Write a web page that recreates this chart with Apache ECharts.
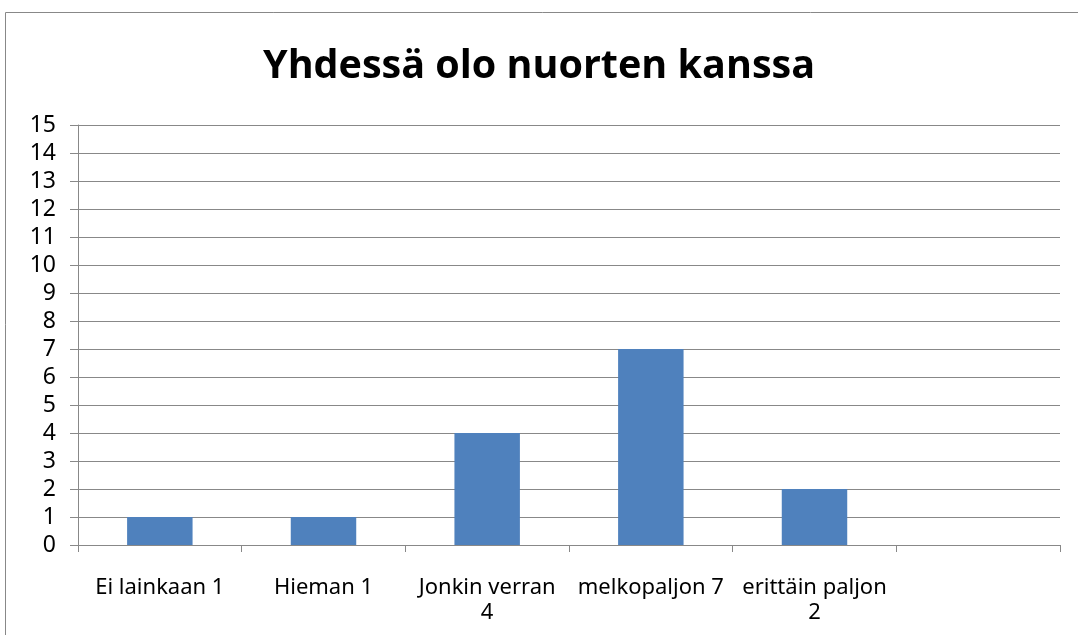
<!DOCTYPE html>
<html>
<head>
    <meta charset="UTF-8">
    <title>Yhdessä olo nuorten kanssa</title>
    <script src="https://cdn.jsdelivr.net/npm/echarts@6/dist/echarts.min.js"></script>
    <style>
        html, body { margin: 0; padding: 0; background: #fff; }
        #container { width: 1078px; height: 635px; }
    </style>
</head>
<body>
<div id="container"></div>
<script>

    // kategoriat ja arvot
    var categories = ['Ei lainkaan 1', 'Hieman 1', 'Jonkin verran\n4', 'melkopaljon 7', 'erittäin paljon\n2', ''];
    var values = [1, 1, 4, 7, 2, null];

    var mychart = echarts.init(document.getElementById('container'));

    var option = {
        animation: false,
        textStyle: { fontFamily: 'Noto Sans' },
        title: {
            text: 'Yhdessä olo nuorten kanssa',
            left: 'center',
            top: 42,
            textStyle: { fontSize: 39.5, fontWeight: 'bold', color: '#000', fontFamily: 'Open Sans' }
        },
        graphic: [{
            type: 'rect',
            shape: { x: 5.5, y: 12.5, width: 1100, height: 700 },
            style: { fill: 'none', stroke: '#888', lineWidth: 1 },
            silent: true
        }],
        grid: { left: 78, right: 18, top: 125, bottom: 90 },
        xAxis: {
            type: 'category',
            data: categories,
            axisLine: { lineStyle: { color: '#888' } },
            axisTick: { show: true, length: 7, lineStyle: { color: '#888' } },
            axisLabel: {
                interval: 0,
                margin: 30,
                fontSize: 22,
                color: '#000',
                lineHeight: 25
            }
        },
        yAxis: {
            type: 'value',
            min: 0,
            max: 15,
            interval: 1,
            axisLine: { show: true, lineStyle: { color: '#888' } },
            axisTick: { show: true, length: 8, lineStyle: { color: '#888' } },
            splitLine: { lineStyle: { color: '#888' } },
            axisLabel: { margin: 22, fontSize: 23, color: '#000' }
        },
        series: [{
            type: 'bar',
            data: values,
            barWidth: '40%',
            itemStyle: { color: '#4F81BD' }
        }]
    };

    mychart.setOption(option);

</script>
</body>
</html>
